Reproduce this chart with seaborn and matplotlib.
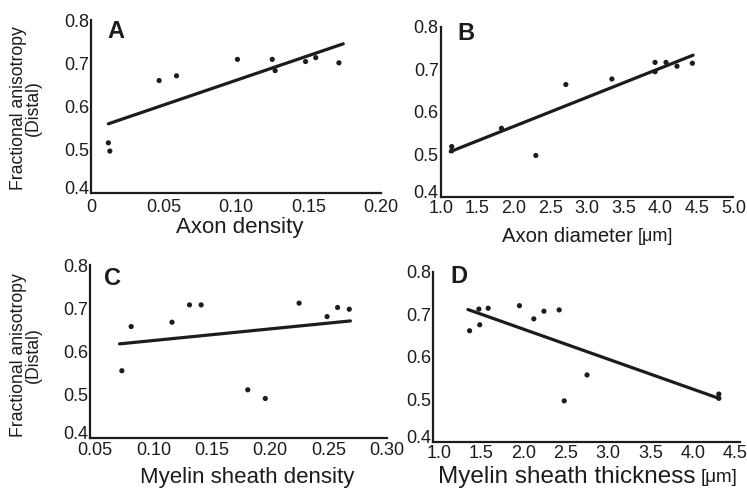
import matplotlib
matplotlib.use("Agg")
import matplotlib.pyplot as plt
import matplotlib.transforms as mtransforms
import seaborn as sns
import pandas as pd

# %%
# Values (FA distal vs. histology measures)
axon_density = [0.012, 0.013, 0.047, 0.059, 0.101, 0.125, 0.127, 0.148, 0.155, 0.171]
fa_axon_density = [0.516, 0.497, 0.660, 0.671, 0.709, 0.709, 0.683, 0.704, 0.713, 0.701]
fit_axon_density_x = [0.012, 0.174]
fit_axon_density_y = [0.560, 0.745]

axon_diameter = [1.15, 1.15, 1.83, 2.30, 2.71, 3.34, 3.93, 3.93, 4.08, 4.23, 4.44]
fa_axon_diameter = [0.518, 0.508, 0.561, 0.497, 0.664, 0.677, 0.716, 0.694, 0.716, 0.707, 0.714]
fit_axon_diameter_x = [1.13, 4.45]
fit_axon_diameter_y = [0.506, 0.733]

myelin_density = [0.073, 0.081, 0.116, 0.131, 0.141, 0.181, 0.196, 0.225, 0.249, 0.258, 0.268]
fa_myelin_density = [0.556, 0.658, 0.668, 0.708, 0.708, 0.512, 0.492, 0.712, 0.681, 0.702, 0.698]
fit_myelin_density_x = [0.071, 0.269]
fit_myelin_density_y = [0.618, 0.671]

myelin_thickness = [1.36, 1.48, 1.47, 1.58, 1.95, 2.12, 2.24, 2.42, 2.48, 2.75, 4.31, 4.31]
fa_myelin_thickness = [0.661, 0.675, 0.712, 0.714, 0.720, 0.689, 0.707, 0.710, 0.496, 0.557, 0.512, 0.502]
fit_myelin_thickness_x = [1.34, 4.31]
fit_myelin_thickness_y = [0.711, 0.502]

y_ticks = [0.4, 0.5, 0.6, 0.7, 0.8]
y_tick_labels = ["0.4", "0.5", "0.6", "0.7", "0.8"]
ylabel_text = "Fractional anisotropy\n(Distal)"

# %%
sns.set_style("white")
plt.rcParams["font.family"] = ["Liberation Sans", "DejaVu Sans"]
ink = "#1c1c1c"

fig = plt.figure(figsize=(7.47, 4.88), dpi=100)

panels = [
    dict(rect=[0.1218, 0.6045, 0.3882, 0.3545], xlim=(0, 0.20),
         xticks=[0, 0.05, 0.10, 0.15, 0.20], xlabels=["0", "0.05", "0.10", "0.15", "0.20"],
         x=axon_density, y=fa_axon_density, fx=fit_axon_density_x, fy=fit_axon_density_y,
         letter="A", letter_pos=(0.055, 1.0), xpad=4.5),
    dict(rect=[0.590, 0.5969, 0.3917, 0.3484], xlim=(1.0, 5.0),
         xticks=[1.0, 1.5, 2.0, 2.5, 3.0, 3.5, 4.0, 4.5, 5.0],
         xlabels=["1.0", "1.5", "2.0", "2.5", "3.0", "3.5", "4.0", "4.5", "5.0"],
         x=axon_diameter, y=fa_axon_diameter, fx=fit_axon_diameter_x, fy=fit_axon_diameter_y,
         letter="B", letter_pos=(0.056, 1.03), xpad=2.5),
    dict(rect=[0.1205, 0.1018, 0.397, 0.3551], xlim=(0.0457, 0.30),
         xticks=[0.05, 0.10, 0.15, 0.20, 0.25, 0.30],
         xlabels=["0.05", "0.10", "0.15", "0.20", "0.25", "0.30"],
         x=myelin_density, y=fa_myelin_density, fx=fit_myelin_density_x, fy=fit_myelin_density_y,
         letter="C", letter_pos=(0.047, 0.99), xpad=2.5),
    dict(rect=[0.580, 0.0949, 0.4106, 0.3484], xlim=(0.93, 4.56),
         xticks=[1.0, 1.5, 2.0, 2.5, 3.0, 3.5, 4.0, 4.5],
         xlabels=["1.0", "1.5", "2.0", "2.5", "3.0", "3.5", "4.0", "4.5"],
         x=myelin_thickness, y=fa_myelin_thickness, fx=fit_myelin_thickness_x, fy=fit_myelin_thickness_y,
         letter="D", letter_pos=(0.055, 1.04), xpad=2.5),
]

for p in panels:
    ax = fig.add_axes(p["rect"])
    pts = pd.DataFrame({"x": p["x"], "y": p["y"]})
    fit = pd.DataFrame({"x": p["fx"], "y": p["fy"]})

    # regression line and data points
    sns.lineplot(data=fit, x="x", y="y", ax=ax, color=ink, linewidth=2.3)
    sns.scatterplot(data=pts, x="x", y="y", ax=ax, color=ink, s=14,
                    edgecolor="none", zorder=3)

    ax.set_xlim(*p["xlim"])
    ax.set_ylim(0.4, 0.8)
    ax.set_xticks(p["xticks"])
    ax.set_xticklabels(p["xlabels"])
    ax.set_yticks(y_ticks)
    ax.set_yticklabels(y_tick_labels)
    ax.set_xlabel("")
    ax.set_ylabel("")
    ax.tick_params(direction="in", length=3, width=1, colors=ink, labelsize=13)
    ax.tick_params(axis="x", pad=p["xpad"])
    ax.tick_params(axis="y", pad=1.5)
    sns.despine(ax=ax)
    for side in ["left", "bottom"]:
        ax.spines[side].set_linewidth(1.6)
        ax.spines[side].set_color(ink)
    ax.patch.set_alpha(0)

    # lift the bottom y label a little, as in the original figure
    lbl = ax.get_yticklabels()[0]
    lbl.set_transform(lbl.get_transform() +
                      mtransforms.ScaledTranslation(0, 4 / 72, fig.dpi_scale_trans))

    ax.text(p["letter_pos"][0], p["letter_pos"][1], p["letter"],
            transform=ax.transAxes, ha="left", va="top",
            fontsize=17, fontweight="bold", color=ink)

# x axis labels (unit part in a smaller size)
fig.text(240 / 747, 1 - 228 / 488, "Axon density", ha="center", va="center",
         fontsize=16, color=ink)
fig.text(633 / 747, 1 - 236 / 488, "Axon diameter", ha="right", va="center",
         fontsize=14.6, color=ink)
fig.text(638 / 747, 1 - 237 / 488, "[μm]", ha="left", va="center",
         fontsize=13, color=ink)
fig.text(247 / 747, 1 - 477 / 488, "Myelin sheath density", ha="center", va="center",
         fontsize=16, color=ink)
fig.text(696 / 747, 1 - 477 / 488, "Myelin sheath thickness", ha="right", va="center",
         fontsize=17.5, color=ink)
fig.text(701 / 747, 1 - 478 / 488, "[μm]", ha="left", va="center",
         fontsize=13.5, color=ink)

# y axis labels
for yc in [108, 355]:
    fig.text(26 / 747, 1 - yc / 488, ylabel_text, ha="center", va="center",
             rotation=90, fontsize=12.7, linespacing=0.85, color=ink,
             family=["Liberation Sans Narrow", "Liberation Sans", "DejaVu Sans"])

fig.savefig("out.png", dpi=100, facecolor="white")
